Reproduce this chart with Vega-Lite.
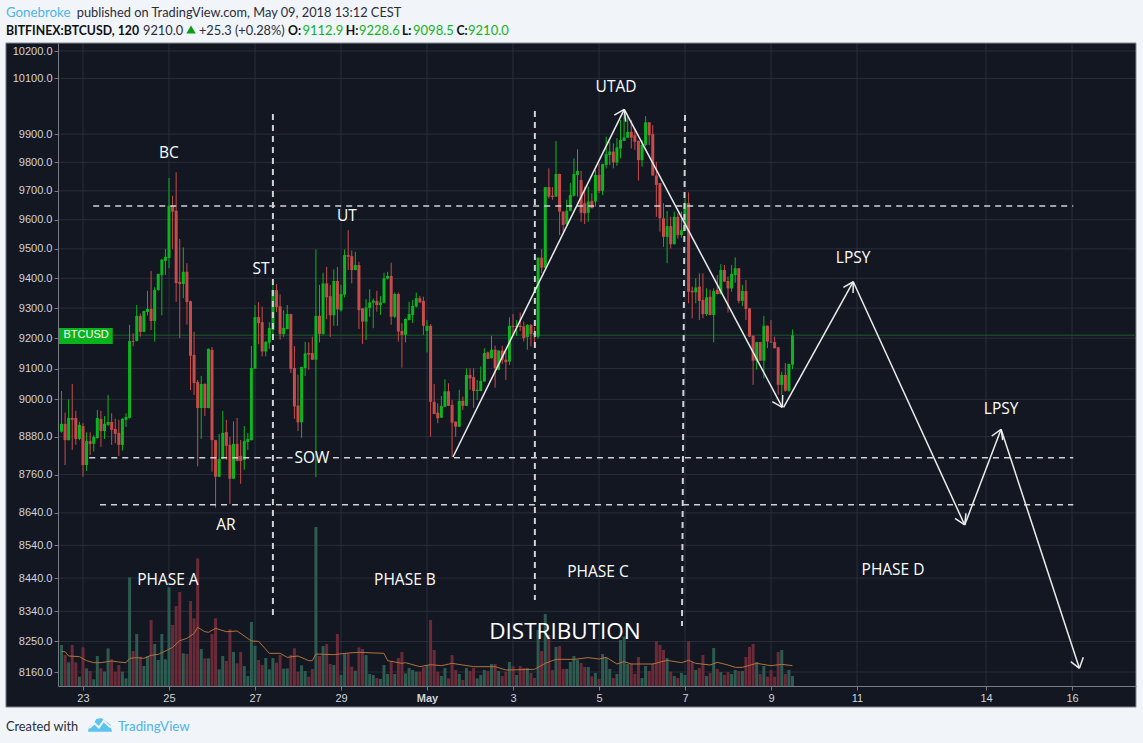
{"$schema":"https://vega.github.io/schema/vega-lite/v6.json","width":1078,"height":643,"autosize":{"type":"none"},"padding":{"left":58,"top":43,"right":7,"bottom":57},"background":"#f1f4f8","view":{"fill":"#131722","stroke":null},
"config":{"axis":{"grid":false,"domainColor":"#787b86","tickColor":"#787b86","tickSize":4,"labelColor":"#d1d4dc","labelFont":"Liberation Sans","labelFontSize":11,"labelPadding":2,"labelOverlap":false,"labelFlush":false}},
"datasets":{"candles":[
{"t":-12,"o":8896,"h":9027,"l":8893,"c":8921,"v":123},{"t":-10,"o":8921,"h":8957,"l":8790,"c":8869,"v":93},{"t":-8,"o":8869,"h":9000,"l":8868,"c":8940,"v":71},{"t":-6,"o":8940,"h":9050,"l":8838,"c":8934,"v":123},{"t":-4,"o":8940,"h":8963,"l":8854,"c":8873,"v":71},{"t":-2,"o":8873,"h":8928,"l":8869,"c":8918,"v":28},{"t":0,"o":8914,"h":8923,"l":8754,"c":8790,"v":116},{"t":2,"o":8790,"h":8894,"l":8771,"c":8866,"v":53},{"t":4,"o":8866,"h":8894,"l":8822,"c":8857,"v":45},{"t":6,"o":8857,"h":8885,"l":8833,"c":8879,"v":20},
{"t":8,"o":8876,"h":8966,"l":8873,"c":8940,"v":90},{"t":10,"o":8937,"h":8963,"l":8848,"c":8898,"v":53},{"t":12,"o":8898,"h":8946,"l":8873,"c":8921,"v":43},{"t":14,"o":8918,"h":9014,"l":8914,"c":8927,"v":113},{"t":16,"o":8927,"h":8955,"l":8854,"c":8902,"v":80},{"t":18,"o":8905,"h":8938,"l":8859,"c":8889,"v":43},{"t":20,"o":8892,"h":8934,"l":8819,"c":8854,"v":63},{"t":22,"o":8854,"h":8940,"l":8836,"c":8937,"v":43},{"t":24,"o":8934,"h":8955,"l":8911,"c":8943,"v":23},{"t":26,"o":8940,"h":9244,"l":8938,"c":9191,"v":326},
{"t":28,"o":9191,"h":9216,"l":9173,"c":9188,"v":105},{"t":30,"o":9191,"h":9310,"l":9189,"c":9274,"v":156},{"t":32,"o":9274,"h":9282,"l":9205,"c":9221,"v":88},{"t":34,"o":9221,"h":9291,"l":9220,"c":9290,"v":60},{"t":36,"o":9287,"h":9358,"l":9275,"c":9297,"v":90},{"t":38,"o":9297,"h":9425,"l":9227,"c":9257,"v":198},{"t":40,"o":9257,"h":9370,"l":9189,"c":9361,"v":126},{"t":42,"o":9361,"h":9415,"l":9358,"c":9415,"v":78},{"t":44,"o":9411,"h":9466,"l":9276,"c":9463,"v":156},{"t":46,"o":9459,"h":9500,"l":9411,"c":9473,"v":80},
{"t":48,"o":9469,"h":9745,"l":9434,"c":9648,"v":296},{"t":50,"o":9648,"h":9683,"l":9500,"c":9628,"v":183},{"t":52,"o":9631,"h":9765,"l":9321,"c":9384,"v":240},{"t":54,"o":9388,"h":9534,"l":9200,"c":9381,"v":282},{"t":56,"o":9381,"h":9505,"l":9333,"c":9422,"v":98},{"t":58,"o":9422,"h":9451,"l":9245,"c":9320,"v":96},{"t":60,"o":9323,"h":9325,"l":9030,"c":9142,"v":255},{"t":62,"o":9145,"h":9221,"l":9014,"c":9053,"v":203},{"t":64,"o":9056,"h":9063,"l":8786,"c":8972,"v":383},{"t":66,"o":8972,"h":9076,"l":8873,"c":9050,"v":111},
{"t":68,"o":9050,"h":9052,"l":8946,"c":8972,"v":83},{"t":70,"o":8972,"h":9166,"l":8971,"c":9165,"v":83},{"t":72,"o":9161,"h":9171,"l":8769,"c":8869,"v":156},{"t":74,"o":8869,"h":8870,"l":8656,"c":8753,"v":203},{"t":76,"o":8753,"h":8889,"l":8752,"c":8809,"v":50},{"t":78,"o":8809,"h":8963,"l":8808,"c":8892,"v":90},{"t":80,"o":8895,"h":8934,"l":8806,"c":8851,"v":75},{"t":82,"o":8854,"h":8879,"l":8668,"c":8747,"v":170},{"t":84,"o":8747,"h":8929,"l":8746,"c":8857,"v":102},{"t":86,"o":8857,"h":8940,"l":8802,"c":8803,"v":68},
{"t":88,"o":8819,"h":8869,"l":8731,"c":8803,"v":102},{"t":90,"o":8806,"h":8914,"l":8775,"c":8866,"v":60},{"t":92,"o":8863,"h":8892,"l":8838,"c":8873,"v":30},{"t":94,"o":8869,"h":9174,"l":8868,"c":9102,"v":192},{"t":96,"o":9100,"h":9310,"l":9099,"c":9270,"v":120},{"t":98,"o":9270,"h":9320,"l":9180,"c":9250,"v":78},{"t":100,"o":9253,"h":9305,"l":9140,"c":9156,"v":63},{"t":102,"o":9156,"h":9190,"l":9140,"c":9188,"v":84},{"t":104,"o":9185,"h":9253,"l":9165,"c":9234,"v":50},{"t":106,"o":9227,"h":9378,"l":9210,"c":9360,"v":84},
{"t":108,"o":9360,"h":9381,"l":9287,"c":9303,"v":70},{"t":110,"o":9306,"h":9346,"l":9195,"c":9214,"v":93},{"t":112,"o":9214,"h":9293,"l":9204,"c":9234,"v":52},{"t":114,"o":9230,"h":9310,"l":9229,"c":9280,"v":53},{"t":116,"o":9280,"h":9281,"l":9086,"c":9099,"v":93},{"t":118,"o":9102,"h":9174,"l":8937,"c":8977,"v":113},{"t":120,"o":8980,"h":9080,"l":8898,"c":8926,"v":43},{"t":122,"o":8926,"h":9106,"l":8876,"c":9105,"v":62},{"t":124,"o":9102,"h":9188,"l":9076,"c":9150,"v":45},{"t":126,"o":9151,"h":9186,"l":9096,"c":9146,"v":28},
{"t":128,"o":9151,"h":9205,"l":9128,"c":9129,"v":51},{"t":130,"o":9129,"h":9498,"l":8752,"c":9274,"v":477},{"t":132,"o":9274,"h":9378,"l":9186,"c":9214,"v":90},{"t":134,"o":9214,"h":9419,"l":9211,"c":9383,"v":120},{"t":136,"o":9383,"h":9439,"l":9263,"c":9336,"v":126},{"t":138,"o":9340,"h":9378,"l":9204,"c":9276,"v":66},{"t":140,"o":9276,"h":9430,"l":9241,"c":9391,"v":63},{"t":142,"o":9391,"h":9439,"l":9241,"c":9296,"v":156},{"t":144,"o":9293,"h":9378,"l":9288,"c":9347,"v":33},{"t":146,"o":9345,"h":9498,"l":9336,"c":9479,"v":98},
{"t":148,"o":9479,"h":9564,"l":9428,"c":9473,"v":98},{"t":150,"o":9475,"h":9495,"l":9383,"c":9428,"v":58},{"t":152,"o":9428,"h":9490,"l":9427,"c":9445,"v":46},{"t":154,"o":9445,"h":9456,"l":9230,"c":9293,"v":116},{"t":156,"o":9299,"h":9300,"l":9181,"c":9255,"v":111},{"t":158,"o":9255,"h":9330,"l":9194,"c":9302,"v":93},{"t":160,"o":9300,"h":9363,"l":9271,"c":9319,"v":36},{"t":162,"o":9318,"h":9332,"l":9233,"c":9325,"v":33},{"t":164,"o":9324,"h":9358,"l":9288,"c":9310,"v":24},{"t":166,"o":9310,"h":9340,"l":9277,"c":9319,"v":21},
{"t":168,"o":9318,"h":9419,"l":9316,"c":9400,"v":63},{"t":170,"o":9399,"h":9422,"l":9396,"c":9408,"v":36},{"t":172,"o":9408,"h":9453,"l":9244,"c":9271,"v":73},{"t":174,"o":9271,"h":9352,"l":9266,"c":9347,"v":36},{"t":176,"o":9347,"h":9352,"l":9189,"c":9222,"v":84},{"t":178,"o":9224,"h":9250,"l":9103,"c":9211,"v":102},{"t":180,"o":9211,"h":9265,"l":9186,"c":9264,"v":38},{"t":182,"o":9260,"h":9321,"l":9259,"c":9280,"v":54},{"t":184,"o":9277,"h":9327,"l":9250,"c":9307,"v":48},{"t":186,"o":9305,"h":9352,"l":9302,"c":9333,"v":43},
{"t":188,"o":9333,"h":9341,"l":9318,"c":9319,"v":43},{"t":190,"o":9324,"h":9338,"l":9211,"c":9241,"v":56},{"t":192,"o":9224,"h":9260,"l":9153,"c":9241,"v":63},{"t":194,"o":9241,"h":9247,"l":8880,"c":8992,"v":198},{"t":196,"o":8992,"h":9050,"l":8952,"c":8953,"v":108},{"t":198,"o":8957,"h":8987,"l":8923,"c":8939,"v":43},{"t":200,"o":8941,"h":9011,"l":8940,"c":8979,"v":30},{"t":202,"o":8976,"h":9065,"l":8975,"c":9026,"v":54},{"t":204,"o":9026,"h":9052,"l":8978,"c":8979,"v":23},{"t":206,"o":8982,"h":8998,"l":8815,"c":8925,"v":93},
{"t":208,"o":8928,"h":8929,"l":8880,"c":8912,"v":48},{"t":210,"o":8912,"h":9031,"l":8911,"c":8995,"v":36},{"t":212,"o":8995,"h":9009,"l":8966,"c":8979,"v":18},{"t":214,"o":8979,"h":9101,"l":8978,"c":9079,"v":54},{"t":216,"o":9079,"h":9101,"l":9031,"c":9068,"v":45},{"t":218,"o":9072,"h":9101,"l":8973,"c":9027,"v":54},{"t":220,"o":9027,"h":9063,"l":8998,"c":9031,"v":23},{"t":222,"o":9027,"h":9107,"l":9026,"c":9060,"v":33},{"t":224,"o":9058,"h":9167,"l":9057,"c":9151,"v":48},{"t":226,"o":9153,"h":9156,"l":9131,"c":9132,"v":45},
{"t":228,"o":9134,"h":9208,"l":9133,"c":9162,"v":66},{"t":230,"o":9162,"h":9175,"l":9038,"c":9101,"v":66},{"t":232,"o":9096,"h":9160,"l":9095,"c":9159,"v":45},{"t":234,"o":9159,"h":9175,"l":9115,"c":9129,"v":30},{"t":236,"o":9129,"h":9156,"l":9063,"c":9121,"v":43},{"t":238,"o":9123,"h":9269,"l":9112,"c":9241,"v":72},{"t":240,"o":9241,"h":9280,"l":9211,"c":9237,"v":60},{"t":242,"o":9237,"h":9260,"l":9208,"c":9241,"v":33},{"t":244,"o":9241,"h":9285,"l":9224,"c":9237,"v":60},{"t":246,"o":9239,"h":9255,"l":9189,"c":9200,"v":54},
{"t":248,"o":9204,"h":9247,"l":9162,"c":9244,"v":54},{"t":250,"o":9244,"h":9247,"l":9173,"c":9214,"v":39},{"t":252,"o":9217,"h":9237,"l":9170,"c":9211,"v":24},{"t":254,"o":9205,"h":9471,"l":9199,"c":9470,"v":168},{"t":256,"o":9470,"h":9499,"l":9417,"c":9436,"v":105},{"t":258,"o":9436,"h":9714,"l":9435,"c":9713,"v":216},{"t":260,"o":9713,"h":9779,"l":9674,"c":9680,"v":153},{"t":262,"o":9683,"h":9713,"l":9669,"c":9679,"v":48},{"t":264,"o":9680,"h":9875,"l":9679,"c":9759,"v":117},{"t":266,"o":9759,"h":9760,"l":9547,"c":9628,"v":120},
{"t":268,"o":9628,"h":9629,"l":9559,"c":9582,"v":51},{"t":270,"o":9585,"h":9669,"l":9578,"c":9631,"v":51},{"t":272,"o":9631,"h":9727,"l":9628,"c":9686,"v":72},{"t":274,"o":9683,"h":9814,"l":9680,"c":9759,"v":90},{"t":276,"o":9756,"h":9846,"l":9680,"c":9770,"v":78},{"t":278,"o":9738,"h":9770,"l":9593,"c":9624,"v":69},{"t":280,"o":9657,"h":9715,"l":9585,"c":9622,"v":57},{"t":282,"o":9624,"h":9715,"l":9593,"c":9663,"v":57},{"t":284,"o":9665,"h":9692,"l":9639,"c":9640,"v":29},{"t":286,"o":9663,"h":9773,"l":9645,"c":9756,"v":39},
{"t":288,"o":9756,"h":9797,"l":9692,"c":9700,"v":21},{"t":290,"o":9700,"h":9795,"l":9685,"c":9794,"v":96},{"t":292,"o":9791,"h":9891,"l":9779,"c":9829,"v":84},{"t":294,"o":9826,"h":9873,"l":9790,"c":9838,"v":51},{"t":296,"o":9838,"h":9867,"l":9779,"c":9800,"v":24},{"t":298,"o":9800,"h":9885,"l":9788,"c":9853,"v":36},{"t":300,"o":9849,"h":9950,"l":9814,"c":9879,"v":138},{"t":302,"o":9876,"h":9986,"l":9875,"c":9888,"v":148},{"t":304,"o":9887,"h":9962,"l":9886,"c":9908,"v":66},{"t":306,"o":9908,"h":9950,"l":9849,"c":9887,"v":68},
{"t":308,"o":9896,"h":9920,"l":9844,"c":9873,"v":36},{"t":310,"o":9876,"h":9877,"l":9736,"c":9808,"v":87},{"t":312,"o":9808,"h":9879,"l":9785,"c":9861,"v":24},{"t":314,"o":9861,"h":9964,"l":9857,"c":9942,"v":60},{"t":316,"o":9942,"h":9943,"l":9861,"c":9896,"v":45},{"t":318,"o":9900,"h":9932,"l":9753,"c":9754,"v":68},{"t":320,"o":9754,"h":9802,"l":9610,"c":9721,"v":135},{"t":322,"o":9727,"h":9728,"l":9559,"c":9605,"v":123},{"t":324,"o":9605,"h":9657,"l":9507,"c":9541,"v":108},{"t":326,"o":9541,"h":9630,"l":9451,"c":9578,"v":84},
{"t":328,"o":9578,"h":9610,"l":9501,"c":9516,"v":43},{"t":330,"o":9516,"h":9628,"l":9515,"c":9610,"v":30},{"t":332,"o":9610,"h":9622,"l":9535,"c":9547,"v":24},{"t":334,"o":9547,"h":9628,"l":9538,"c":9564,"v":39},{"t":336,"o":9562,"h":9674,"l":9561,"c":9657,"v":33},{"t":338,"o":9657,"h":9695,"l":9316,"c":9355,"v":135},{"t":340,"o":9358,"h":9372,"l":9266,"c":9353,"v":72},{"t":342,"o":9353,"h":9400,"l":9316,"c":9369,"v":48},{"t":344,"o":9372,"h":9417,"l":9260,"c":9324,"v":54},{"t":346,"o":9327,"h":9417,"l":9266,"c":9280,"v":93},
{"t":348,"o":9280,"h":9366,"l":9274,"c":9336,"v":30},{"t":350,"o":9338,"h":9362,"l":9276,"c":9277,"v":39},{"t":352,"o":9277,"h":9366,"l":9186,"c":9357,"v":114},{"t":354,"o":9361,"h":9411,"l":9346,"c":9347,"v":51},{"t":356,"o":9347,"h":9448,"l":9346,"c":9428,"v":42},{"t":358,"o":9428,"h":9445,"l":9388,"c":9389,"v":33},{"t":360,"o":9391,"h":9406,"l":9285,"c":9366,"v":42},{"t":362,"o":9366,"h":9445,"l":9355,"c":9415,"v":36},{"t":364,"o":9411,"h":9471,"l":9385,"c":9434,"v":48},{"t":366,"o":9434,"h":9435,"l":9316,"c":9324,"v":45},
{"t":368,"o":9324,"h":9378,"l":9307,"c":9357,"v":45},{"t":370,"o":9357,"h":9394,"l":9260,"c":9297,"v":87},{"t":372,"o":9299,"h":9300,"l":9204,"c":9205,"v":117},{"t":374,"o":9208,"h":9209,"l":9047,"c":9126,"v":126},{"t":376,"o":9126,"h":9188,"l":9096,"c":9187,"v":72},{"t":378,"o":9187,"h":9188,"l":9125,"c":9126,"v":36},{"t":380,"o":9126,"h":9274,"l":9068,"c":9241,"v":60},{"t":382,"o":9241,"h":9242,"l":9167,"c":9189,"v":28},{"t":384,"o":9189,"h":9260,"l":9184,"c":9186,"v":48},{"t":386,"o":9187,"h":9205,"l":9166,"c":9167,"v":28},
{"t":388,"o":9170,"h":9171,"l":9015,"c":9047,"v":102},{"t":390,"o":9047,"h":9090,"l":9015,"c":9079,"v":108},{"t":392,"o":9079,"h":9118,"l":9025,"c":9028,"v":36},{"t":394,"o":9028,"h":9116,"l":9025,"c":9115,"v":48},{"t":396,"o":9112.9,"h":9228.6,"l":9098.5,"c":9210,"v":30}],
"ma":[{"t":-12,"m":103},{"t":-10,"m":103},{"t":-8,"m":90},{"t":-2,"m":88},{"t":2,"m":76},{"t":6,"m":70},{"t":10,"m":70},{"t":16,"m":75},{"t":20,"m":72},{"t":24,"m":70},{"t":26,"m":83},{"t":30,"m":85},{"t":34,"m":83},{"t":38,"m":92},{"t":42,"m":95},{"t":46,"m":105},{"t":50,"m":116},{"t":54,"m":136},{"t":58,"m":143},{"t":62,"m":158},{"t":64,"m":176},{"t":68,"m":163},{"t":70,"m":161},{"t":74,"m":173},{"t":80,"m":163},{"t":86,"m":165},{"t":94,"m":135},{"t":98,"m":134},{"t":104,"m":98},{"t":110,"m":98},{"t":114,"m":86},{"t":120,"m":90},{"t":126,"m":76},{"t":128,"m":76},{"t":130,"m":96},{"t":140,"m":94},{"t":148,"m":99},{"t":154,"m":101},{"t":168,"m":98},{"t":170,"m":76},{"t":178,"m":68},{"t":180,"m":70},{"t":188,"m":58},{"t":194,"m":64},{"t":200,"m":61},{"t":206,"m":68},{"t":212,"m":63},{"t":218,"m":58},{"t":230,"m":58},{"t":236,"m":48},{"t":252,"m":50},{"t":258,"m":68},{"t":264,"m":80},{"t":274,"m":80},{"t":282,"m":85},{"t":288,"m":81},{"t":292,"m":86},{"t":298,"m":66},{"t":302,"m":73},{"t":306,"m":66},{"t":312,"m":66},{"t":318,"m":66},{"t":326,"m":77},{"t":334,"m":70},{"t":338,"m":77},{"t":342,"m":68},{"t":350,"m":63},{"t":354,"m":71},{"t":360,"m":63},{"t":364,"m":56},{"t":368,"m":56},{"t":376,"m":68},{"t":384,"m":61},{"t":390,"m":65},{"t":396,"m":61}]},
"resolve":{"scale":{"y":"independent"}},
"encoding":{"x":{"field":"t","type":"quantitative","title":null,"scale":{"domain":[-13.95,587.7],"nice":false,"zero":false,"padding":0},"axis":{"zindex":2,"values":[0,48,96,144,192,240,288,336,384,432,504,552],"labelExpr":"{'0':'23','48':'25','96':'27','144':'29','192':'May','240':'3','288':'5','336':'7','384':'9','432':'11','504':'14','552':'16'}[datum.value]","labelFontWeight":{"condition":{"test":"datum.value==192","value":"bold"},"value":"normal"}}}},
"layer":[
{"layer":[
{"data":{"values":[{"t":0},{"t":48},{"t":96},{"t":144},{"t":192},{"t":240},{"t":288},{"t":336},{"t":384},{"t":432},{"t":504},{"t":552}]},"mark":{"type":"rule","color":"#2a2e3a","strokeWidth":1},"encoding":{}},
{"data":{"values":[{"t":-13.95,"t2":587.7,"p":10200},{"t":-13.95,"t2":587.7,"p":10100},{"t":-13.95,"t2":587.7,"p":9900},{"t":-13.95,"t2":587.7,"p":9800},{"t":-13.95,"t2":587.7,"p":9700},{"t":-13.95,"t2":587.7,"p":9600},{"t":-13.95,"t2":587.7,"p":9500},{"t":-13.95,"t2":587.7,"p":9400},{"t":-13.95,"t2":587.7,"p":9300},{"t":-13.95,"t2":587.7,"p":9200},{"t":-13.95,"t2":587.7,"p":9100},{"t":-13.95,"t2":587.7,"p":9000},{"t":-13.95,"t2":587.7,"p":8880},{"t":-13.95,"t2":587.7,"p":8760},{"t":-13.95,"t2":587.7,"p":8640},{"t":-13.95,"t2":587.7,"p":8540},{"t":-13.95,"t2":587.7,"p":8440},{"t":-13.95,"t2":587.7,"p":8340},{"t":-13.95,"t2":587.7,"p":8250},{"t":-13.95,"t2":587.7,"p":8160}]},"mark":{"type":"rule","color":"#2a2e3a","strokeWidth":1},"encoding":{"y":{"field":"p","type":"quantitative","title":null,"scale":{"type":"log","domain":[8119.1,10229.4],"nice":false},"axis":null},"x2":{"field":"t2"}}}
]},
{"data":{"name":"candles"},"layer":[
{"mark":{"type":"bar","size":3,"orient":"vertical"},"encoding":{"y":{"field":"v","type":"quantitative","title":null,"scale":{"domain":[0,1929],"nice":false},"axis":null},"color":{"condition":{"test":"datum.c>=datum.o","value":"#2d5b50"},"value":"#6b2a38"}}},
{"data":{"name":"ma"},"mark":{"type":"line","color":"#b5713a","strokeWidth":1},"encoding":{"y":{"field":"m","type":"quantitative","title":null,"scale":{"domain":[0,1929],"nice":false},"axis":null}}}
]},
{"encoding":{"y":{"field":"p","type":"quantitative","title":null,"scale":{"type":"log","domain":[8119.1,10229.4],"nice":false},"axis":{"zindex":2,"values":[10200,10100,9900,9800,9700,9600,9500,9400,9300,9200,9100,9000,8880,8760,8640,8540,8440,8340,8250,8160],"format":".1f"}}},"layer":[
{"data":{"values":[{"t":-43,"t2":-13.95,"p":8057.9,"p2":10229.4},{"t":-13.95,"t2":587.7,"p":8057.9,"p2":8119.1}]},"mark":{"type":"rect","color":"#131722"},"encoding":{"x2":{"field":"t2"},"y2":{"field":"p2"}}},
{"data":{"values":[{"t":-43,"t2":587.7,"p":8057.9,"p2":10229.4}]},"mark":{"type":"rect","filled":false,"stroke":"#868993","strokeWidth":1},"encoding":{"x2":{"field":"t2"},"y2":{"field":"p2"}}},
{"data":{"values":[{"t":-13.95,"t2":587.7,"p":9210}]},"mark":{"type":"rule","color":"#1b5c2b","strokeWidth":1},"encoding":{"x2":{"field":"t2"}}},
{"data":{"name":"candles"},"mark":{"type":"rule","strokeWidth":1},"encoding":{"y":{"field":"l","type":"quantitative","title":null,"scale":{"type":"log","domain":[8119.1,10229.4],"nice":false}},"y2":{"field":"h"},"color":{"condition":{"test":"datum.c>=datum.o","value":"#0cb51e"},"value":"#c84b4b"}}},
{"data":{"name":"candles"},"mark":{"type":"bar","size":3,"orient":"vertical"},"encoding":{"y":{"field":"o","type":"quantitative","title":null,"scale":{"type":"log","domain":[8119.1,10229.4],"nice":false}},"y2":{"field":"c"},"color":{"condition":{"test":"datum.c>=datum.o","value":"#0cb51e"},"value":"#c84b4b"}}},
{"data":{"values":[{"t":5.7,"t2":552.7,"p":9647.4,"p2":9647.4},{"t":3.5,"t2":117,"p":8813.2,"p2":8813.2},{"t":139.5,"t2":552.7,"p":8813.2,"p2":8813.2},{"t":9.5,"t2":552.7,"p":8665.3,"p2":8665.3}]},"mark":{"type":"rule","color":"#d0d2d6","strokeWidth":1.5,"strokeDash":[6,5]},"encoding":{"x2":{"field":"t2"},"y2":{"field":"p2"}}},
{"data":{"values":[{"t":106,"t2":106,"p":9971.7,"p2":8328.6},{"t":252.2,"t2":252.2,"p":9982.4,"p2":8373.9},{"t":336,"t2":334.3,"p":9968,"p2":8295.8}]},"mark":{"type":"rule","color":"#d0d2d6","strokeWidth":2,"strokeDash":[6,5]},"encoding":{"x2":{"field":"t2"},"y2":{"field":"p2"}}},
{"data":{"values":[{"t":206.5,"t2":302.1,"p":8815.5,"p2":9988.6},{"t":302.1,"t2":390.3,"p":9988.6,"p2":8974.2},{"t":391,"t2":429.9,"p":8974.2,"p2":9388.5},{"t":429.9,"t2":492.1,"p":9388.5,"p2":8602.7},{"t":492.1,"t2":512.4,"p":8602.7,"p2":8903.6},{"t":512.4,"t2":556.1,"p":8903.6,"p2":8170.9},{"t":296.5,"t2":302.1,"p":9968,"p2":9988.6},{"t":302.9,"t2":302.1,"p":9944.2,"p2":9988.6},{"t":384.7,"t2":390.3,"p":8992.3,"p2":8974.2},{"t":390.5,"t2":390.3,"p":9014,"p2":8974.2},{"t":424.4,"t2":429.9,"p":9369.6,"p2":9388.5},{"t":429.8,"t2":429.9,"p":9350.4,"p2":9388.5},{"t":486.7,"t2":492.1,"p":8623.4,"p2":8602.7},{"t":492.8,"t2":492.1,"p":8638.9,"p2":8602.7},{"t":507.2,"t2":512.4,"p":8882.2,"p2":8903.6},{"t":513.3,"t2":512.4,"p":8869.4,"p2":8903.6},{"t":551.3,"t2":556.1,"p":8190.3,"p2":8170.9},{"t":558.3,"t2":556.1,"p":8203.2,"p2":8170.9}]},"mark":{"type":"rule","color":"#ececec","strokeWidth":1.5},"encoding":{"x2":{"field":"t2"},"y2":{"field":"p2"}}},
{"data":{"values":[{"t":48,"p":9836.5,"label":"BC"},{"t":99.3,"p":9435,"label":"ST"},{"t":147.3,"p":9616.3,"label":"UT"},{"t":297.5,"p":10072.5,"label":"UTAD"},{"t":429.8,"p":9472.2,"label":"LPSY"},{"t":512.4,"p":8971.9,"label":"LPSY"},{"t":127.8,"p":8815.5,"label":"SOW"},{"t":79.8,"p":8605.8,"label":"AR"},{"t":47.4,"p":8437.3,"label":"PHASE A"},{"t":179.7,"p":8437.3,"label":"PHASE B"},{"t":287.4,"p":8461.6,"label":"PHASE C"},{"t":452.1,"p":8467.6,"label":"PHASE D"}]},"mark":{"type":"text","font":"Open Sans","fontSize":15.5,"dy":1,"color":"#ffffff"},"encoding":{"text":{"field":"label"}}},
{"data":{"values":[{"t":269,"p":8280.9,"label":"DISTRIBUTION"}]},"mark":{"type":"text","font":"Open Sans","fontSize":22.5,"dy":1,"color":"#ffffff"},"encoding":{"text":{"field":"label"}}},
{"data":{"values":[{"t":-13.4,"t2":16.6,"p":9233.7,"p2":9180.7}]},"mark":{"type":"rect","color":"#0ab31c"},"encoding":{"x2":{"field":"t2"},"y2":{"field":"p2"}}},
{"data":{"values":[{"t":1.7,"p":9210,"label":"BTCUSD"}]},"mark":{"type":"text","font":"Liberation Sans","fontSize":11,"color":"#ffffff"},"encoding":{"text":{"field":"label"}}},
{"data":{"values":[{"t":-43,"p":10345.8,"label":"Gonebroke"},{"t":19.5,"p":8003.1,"label":"TradingView"}]},"mark":{"type":"text","font":"Lato","fontSize":13.3,"dy":1,"align":"left","color":"#4cb5ea"},"encoding":{"text":{"field":"label"}}},
{"data":{"values":[{"t":-3.5,"p":10345.8,"label":"published on TradingView.com, May 09, 2018 13:12 CEST"},{"t":33.5,"p":10279.1,"label":"9210.0"},{"t":64.7,"p":10279.1,"label":"+25.3 (+0.28%)"},{"t":-43,"p":8003.1,"label":"Created with"}]},"mark":{"type":"text","font":"Lato","fontSize":12.8,"dy":1,"align":"left","color":"#2a2e39"},"encoding":{"text":{"field":"label"}}},
{"data":{"values":[{"t":-43,"p":10279.1,"label":"BITFINEX:BTCUSD, 120"},{"t":114.4,"p":10279.1,"label":"O:"},{"t":146.6,"p":10279.1,"label":"H:"},{"t":178,"p":10279.1,"label":"L:"},{"t":208.4,"p":10279.1,"label":"C:"}]},"mark":{"type":"text","font":"Lato","fontSize":12.3,"dy":1,"fontWeight":"bold","align":"left","color":"#111111"},"encoding":{"text":{"field":"label"}}},
{"data":{"values":[{"t":122.5,"p":10279.1,"label":"9112.9"},{"t":154,"p":10279.1,"label":"9228.6"},{"t":184.2,"p":10279.1,"label":"9098.5"},{"t":214.9,"p":10279.1,"label":"9210.0"}]},"mark":{"type":"text","font":"Lato","fontSize":13,"dy":1,"align":"left","color":"#11b31f"},"encoding":{"text":{"field":"label"}}},
{"data":{"values":[{"t":60.3,"p":10279.1}]},"mark":{"type":"point","shape":"triangle-up","filled":true,"size":90,"opacity":1,"color":"#0a9e14"},"encoding":{}},
{"data":{"values":[{"t":9.5,"p":8007.5}]},"mark":{"type":"point","shape":"M-1,0.6 L-0.9,0.15 L-0.55,-0.05 L-0.3,-0.45 L0.1,-0.55 L0.45,-0.3 L0.85,0 L1,0.6 Z","filled":true,"size":576,"opacity":1,"color":"#5cc3ee"},"encoding":{}},
{"data":{"values":[{"t":9.5,"p":8007.5}]},"mark":{"type":"point","shape":"M-0.9,0.3 L-0.45,-0.1 L-0.1,0.25 L0.3,-0.3 L0.9,0.25","filled":false,"size":576,"opacity":1,"color":"#f1f4f8","strokeWidth":2},"encoding":{}}
]}
]}
